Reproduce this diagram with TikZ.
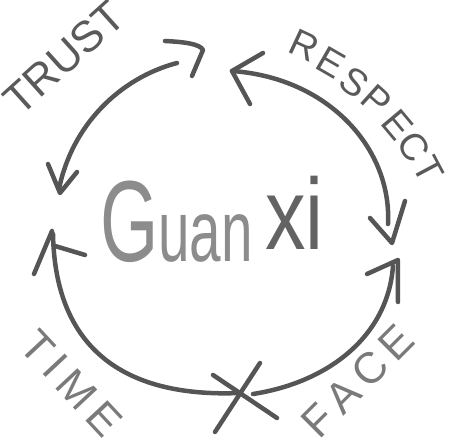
\documentclass[tikz,border=0pt]{standalone}
\usepackage{fontspec}
\setmainfont{Liberation Sans}
\definecolor{inkc}{HTML}{555555}
\definecolor{labc}{HTML}{5A5A5A}
\definecolor{lightc}{HTML}{7A7A7A}
\definecolor{guanc}{HTML}{8C8C8C}
\definecolor{xic}{HTML}{636363}
\begin{document}
\begin{tikzpicture}[x=0.025cm,y=-0.025cm,
  stroke/.style={line width=3.2pt, line cap=round, line join=round, draw=inkc},
  lbl/.style={font=\fontsize{31}{31}\selectfont, text=labc, inner sep=0pt},
  ltr/.style={font=\fontsize{27}{27}\selectfont, text=labc, inner sep=0pt}]
\useasboundingbox (0,0) rectangle (450,444);
% centre text
\node[anchor=base west, inner sep=0pt, text=guanc, xscale=0.65, font=\fontsize{62}{62}\selectfont] (guan) at (100,262) {{\fontsize{82}{82}\selectfont G}uan};
\node[anchor=base west, inner sep=0pt, text=xic, xscale=0.8, font=\fontsize{72}{72}\selectfont] (xi) at (265,250) {xi};
% labels
\node[lbl, rotate=42] (trust) at (64,58) {TRUST};
\node[ltr, rotate=-25] (r1) at (304,45) {R};
\node[ltr, rotate=-30] (r2) at (331,63) {E};
\node[ltr, rotate=-36] (r3) at (354,82) {S};
\node[ltr, rotate=-42] (r4) at (377,100) {P};
\node[ltr, rotate=-50] (r5) at (398,125) {E};
\node[ltr, rotate=-57] (r6) at (414,147) {C};
\node[ltr, rotate=-62] (r7) at (428,170) {T};
\node[lbl, text=lightc, rotate=-47] (time) at (71,383) {T\,I\,M\,E};
\node[lbl, text=lightc, rotate=45] (face) at (358,381) {F\,A\,C\,E};
% coordinates
\coordinate (t1) at (177,63);
\coordinate (t2) at (59,189);
\coordinate (ta1) at (48,164);
\coordinate (ta2) at (60,193);
\coordinate (ta3) at (77,172);
\coordinate (tb1) at (165,41);
\coordinate (tb2) at (203,50);
\coordinate (tb3) at (192,76);
\coordinate (p1) at (232,71);
\coordinate (p2) at (388,224);
\coordinate (pa1) at (263,53);
\coordinate (pa2) at (250,104);
\coordinate (pb1) at (370,218);
\coordinate (pb2) at (392,243);
\coordinate (pb3) at (405,201);
\coordinate (f1) at (253,394);
\coordinate (f2) at (393,266);
\coordinate (fa1) at (367,274);
\coordinate (fa2) at (398,260);
\coordinate (fa3) at (398,302);
\coordinate (m1) at (240,393);
\coordinate (m2) at (53,234);
\coordinate (ma1) at (34,274);
\coordinate (ma2) at (52,231);
\coordinate (ma3) at (55,246);
\coordinate (ma4) at (85,255);
\coordinate (x1) at (213,375);
\coordinate (x2) at (277,418);
\coordinate (x3) at (260,363);
\coordinate (x4) at (215,432);
% TRUST arrow
\draw[stroke] (t1) .. controls (120,78) and (72,125) .. (t2);
\draw[stroke] (ta1) -- (ta2) -- (ta3);
\draw[stroke] (tb1) .. controls (185,42) and (200,44) .. (tb2) -- (tb3);
% RESPECT arrow
\draw[stroke] (p1) .. controls (330,78) and (392,150) .. (p2);
\draw[stroke] (pa1) -- (p1) -- (pa2);
\draw[stroke] (pb1) -- (pb2) -- (pb3);
% FACE arrow
\draw[stroke] (f1) .. controls (330,382) and (388,335) .. (f2);
\draw[stroke] (fa1) -- (fa2) -- (fa3);
% TIME arrow
\draw[stroke] (m1) .. controls (120,398) and (55,345) .. (m2);
\draw[stroke] (ma1) -- (ma2);
\draw[stroke] (ma3) -- (ma4);
% X
\draw[stroke] (x1) -- (x2);
\draw[stroke] (x3) -- (x4);
\end{tikzpicture}
\end{document}
